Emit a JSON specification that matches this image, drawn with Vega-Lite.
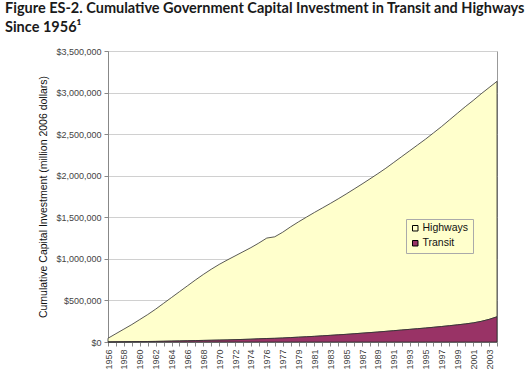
{
  "$schema": "https://vega.github.io/schema/vega-lite/v6.json",
  "autosize": "none",
  "width": 389,
  "height": 291,
  "padding": {"left": 108, "top": 51, "right": 28, "bottom": 34},
  "background": "white",
  "title": {
    "text": ["Figure ES-2. Cumulative Government Capital Investment in Transit and Highways", "Since 1956¹"],
    "anchor": "start",
    "frame": "group",
    "dx": -103,
    "offset": 12,
    "font": "Lato",
    "fontSize": 14.5,
    "fontWeight": "bold",
    "color": "#1a1a1a",
    "lineHeight": 19
  },
  "data": {
    "values": [
      {"year": "1956", "Highways": 44000, "Transit": 1000},
      {"year": "1957", "Highways": 98000, "Transit": 2000},
      {"year": "1958", "Highways": 152000, "Transit": 3000},
      {"year": "1959", "Highways": 206000, "Transit": 4000},
      {"year": "1960", "Highways": 265000, "Transit": 5000},
      {"year": "1961", "Highways": 324000, "Transit": 6000},
      {"year": "1962", "Highways": 388000, "Transit": 7000},
      {"year": "1963", "Highways": 456000, "Transit": 9000},
      {"year": "1964", "Highways": 524000, "Transit": 11000},
      {"year": "1965", "Highways": 592000, "Transit": 13000},
      {"year": "1966", "Highways": 660000, "Transit": 15000},
      {"year": "1967", "Highways": 728000, "Transit": 17000},
      {"year": "1968", "Highways": 793000, "Transit": 19000},
      {"year": "1969", "Highways": 854000, "Transit": 21000},
      {"year": "1970", "Highways": 910000, "Transit": 23000},
      {"year": "1971", "Highways": 960000, "Transit": 25000},
      {"year": "1972", "Highways": 1007000, "Transit": 28000},
      {"year": "1973", "Highways": 1054000, "Transit": 31000},
      {"year": "1974", "Highways": 1101000, "Transit": 34000},
      {"year": "1975", "Highways": 1152000, "Transit": 38000},
      {"year": "1976", "Highways": 1208000, "Transit": 42000},
      {"year": "TQ", "Highways": 1221000, "Transit": 44000},
      {"year": "1977", "Highways": 1272000, "Transit": 48000},
      {"year": "1978", "Highways": 1332000, "Transit": 53000},
      {"year": "1979", "Highways": 1387000, "Transit": 58000},
      {"year": "1980", "Highways": 1439000, "Transit": 63000},
      {"year": "1981", "Highways": 1490000, "Transit": 68000},
      {"year": "1982", "Highways": 1538000, "Transit": 74000},
      {"year": "1983", "Highways": 1586000, "Transit": 80000},
      {"year": "1984", "Highways": 1636000, "Transit": 86000},
      {"year": "1985", "Highways": 1688000, "Transit": 92000},
      {"year": "1986", "Highways": 1741000, "Transit": 99000},
      {"year": "1987", "Highways": 1794000, "Transit": 106000},
      {"year": "1988", "Highways": 1849000, "Transit": 113000},
      {"year": "1989", "Highways": 1905000, "Transit": 120000},
      {"year": "1990", "Highways": 1962000, "Transit": 128000},
      {"year": "1991", "Highways": 2024000, "Transit": 136000},
      {"year": "1992", "Highways": 2086000, "Transit": 144000},
      {"year": "1993", "Highways": 2148000, "Transit": 152000},
      {"year": "1994", "Highways": 2210000, "Transit": 160000},
      {"year": "1995", "Highways": 2272000, "Transit": 168000},
      {"year": "1996", "Highways": 2338000, "Transit": 177000},
      {"year": "1997", "Highways": 2404000, "Transit": 186000},
      {"year": "1998", "Highways": 2474000, "Transit": 196000},
      {"year": "1999", "Highways": 2544000, "Transit": 206000},
      {"year": "2000", "Highways": 2613000, "Transit": 217000},
      {"year": "2001", "Highways": 2675000, "Transit": 230000},
      {"year": "2002", "Highways": 2737000, "Transit": 248000},
      {"year": "2003", "Highways": 2788000, "Transit": 272000},
      {"year": "2004", "Highways": 2832000, "Transit": 303000}
    ]
  },
  "transform": [{"fold": ["Highways", "Transit"], "as": ["series", "value"]}],
  "mark": {"type": "area", "stroke": "#303030", "strokeWidth": 0.8},
  "encoding": {
    "x": {
      "field": "year",
      "type": "ordinal",
      "sort": null,
      "scale": {"type": "point", "padding": 0},
      "axis": {
        "title": null,
        "labelAngle": 270,
        "labelFont": "Liberation Sans",
        "labelFontSize": 9,
        "labelColor": "#444",
        "labelPadding": 3,
        "tickSize": 4,
        "tickColor": "#888",
        "domainColor": "#888",
        "labelOverlap": false,
        "labelExpr": "datum.value == 'TQ' ? '' : (toNumber(datum.value) <= 1976 ? (toNumber(datum.value) % 2 == 0 ? datum.value : '') : (toNumber(datum.value) % 2 == 1 ? datum.value : ''))"
      }
    },
    "y": {
      "field": "value",
      "type": "quantitative",
      "stack": "zero",
      "scale": {"domain": [0, 3500000], "nice": false},
      "axis": {
        "title": "Cumulative Capital Investment (million 2006 dollars)",
        "titleFont": "Liberation Sans",
        "titleFontSize": 10.5,
        "titleFontWeight": "normal",
        "titleColor": "#111",
        "titlePadding": 7,
        "values": [0, 500000, 1000000, 1500000, 2000000, 2500000, 3000000, 3500000],
        "format": "$,.0f",
        "labelFont": "Liberation Sans",
        "labelFontSize": 9,
        "labelColor": "#444",
        "labelPadding": 3,
        "tickSize": 4,
        "tickColor": "#888",
        "domainColor": "#888",
        "grid": true,
        "gridColor": "#d0d0d0"
      }
    },
    "color": {
      "field": "series",
      "type": "nominal",
      "scale": {"domain": ["Highways", "Transit"], "range": ["#FFFFCC", "#993366"]},
      "legend": {
        "title": null,
        "orient": "none",
        "legendX": 298,
        "legendY": 168,
        "symbolType": "square",
        "symbolSize": 30,
        "symbolStrokeColor": "#000",
        "symbolStrokeWidth": 1,
        "labelFont": "Liberation Sans",
        "labelFontSize": 10.5,
        "labelColor": "#111",
        "labelOffset": 2,
        "rowPadding": 4,
        "padding": 4,
        "strokeColor": "#aaa",
        "fillColor": "#FFFFCC",
        "encode": {"symbols": {"update": {"stroke": {"value": "#000"}, "strokeWidth": {"value": 1}}}}
      }
    },
    "order": {"field": "series", "sort": "descending"}
  },
  "config": {
    "view": {"stroke": "#999"}
  }
}
